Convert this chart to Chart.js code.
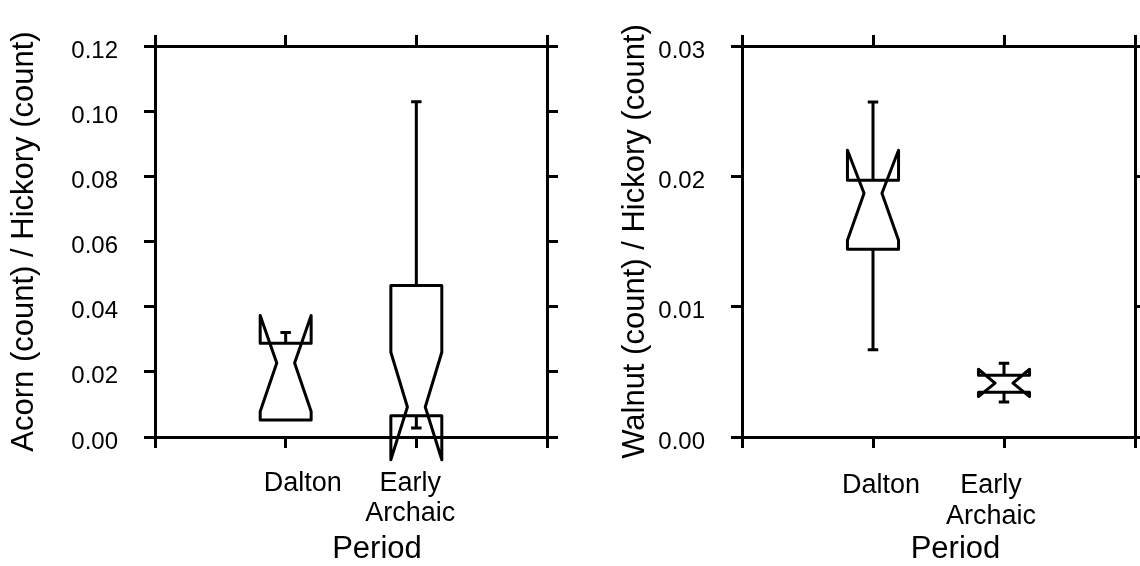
<!DOCTYPE html>
<html>
<head>
<meta charset="utf-8">
<script src="https://cdn.jsdelivr.net/npm/chart.js@4.4.0/dist/chart.umd.min.js"></script>
<style>
  html, body { margin: 0; padding: 0; background: #fff; overflow: hidden; }
  #left { position: absolute; left: 0; top: 0; width: 570px; height: 566px; }
  #right { position: absolute; left: 570px; top: 0; width: 580px; height: 566px; }
</style>
</head>
<body>
<div id="left"><canvas id="acornChart"></canvas></div>
<div id="right"><canvas id="walnutChart"></canvas></div>
<script>
// categories sit at x = 1, 2 on a 0..3 axis
const PERIODS = [["Dalton"], ["Early", "Archaic"]];
const X_TICKS = [0, 1, 2, 3];

// Acorn / Hickory
const ACORN_Y_TICKS = [0, 0.02, 0.04, 0.06, 0.08, 0.10, 0.12];
const ACORN_WHISKER_HIGH = [0.0321, 0.1029];
const ACORN_Q3 = [0.0288, 0.0465];
const ACORN_NOTCH_HIGH = [0.0373, 0.0260];
const ACORN_MEDIAN = [0.0227, 0.0092];
const ACORN_NOTCH_LOW = [0.0078, -0.0070];
const ACORN_Q1 = [0.0052, 0.0065];
const ACORN_WHISKER_LOW = [null, 0.0028];

// Walnut / Hickory
const WALNUT_Y_TICKS = [0, 0.01, 0.02, 0.03];
const WALNUT_WHISKER_HIGH = [0.0257, 0.00566];
const WALNUT_Q3 = [0.0197, 0.00474];
const WALNUT_NOTCH_HIGH = [0.0220, 0.0052];
const WALNUT_MEDIAN = [0.0187, 0.00413];
const WALNUT_NOTCH_LOW = [0.0151, 0.0031];
const WALNUT_Q1 = [0.0144, 0.00344];
const WALNUT_WHISKER_LOW = [0.0067, 0.00268];

const FONT = "'Liberation Sans', Arial, Helvetica, sans-serif";
const BOX_WIDTH = 0.39;     // in x units
const NOTCH_NARROW = 0.35;  // fraction of half box width
const CAP_WIDTH = 0.08;     // in x units
const TICK_LEN = 11;

const notchedBoxes = {
  id: "notchedBoxes",
  afterDraw(chart, args, o) {
    const ctx = chart.ctx;
    const xs = chart.scales.x, ys = chart.scales.y;
    const unit = xs.getPixelForValue(1) - xs.getPixelForValue(0);
    const hw = BOX_WIDTH / 2 * unit;
    const nw = hw * NOTCH_NARROW;
    const cw = CAP_WIDTH / 2 * unit;
    const py = v => ys.getPixelForValue(v);
    ctx.save();
    ctx.strokeStyle = "#000";
    ctx.lineWidth = 3;
    ctx.lineJoin = "round";
    ctx.lineCap = "butt";
    o.q1.forEach((q1, i) => {
      const c = xs.getPixelForValue(i + 1);
      // whiskers
      if (o.whiskerHigh[i] != null) {
        ctx.beginPath();
        ctx.moveTo(c, py(o.q3[i]));
        ctx.lineTo(c, py(o.whiskerHigh[i]));
        ctx.moveTo(c - cw, py(o.whiskerHigh[i]));
        ctx.lineTo(c + cw, py(o.whiskerHigh[i]));
        ctx.stroke();
      }
      if (o.whiskerLow[i] != null) {
        ctx.beginPath();
        ctx.moveTo(c, py(q1));
        ctx.lineTo(c, py(o.whiskerLow[i]));
        ctx.moveTo(c - cw, py(o.whiskerLow[i]));
        ctx.lineTo(c + cw, py(o.whiskerLow[i]));
        ctx.stroke();
      }
      // notched box outline
      ctx.beginPath();
      ctx.moveTo(c - hw, py(q1));
      ctx.lineTo(c - hw, py(o.notchLow[i]));
      ctx.lineTo(c - nw, py(o.median[i]));
      ctx.lineTo(c - hw, py(o.notchHigh[i]));
      ctx.lineTo(c - hw, py(o.q3[i]));
      ctx.lineTo(c + hw, py(o.q3[i]));
      ctx.lineTo(c + hw, py(o.notchHigh[i]));
      ctx.lineTo(c + nw, py(o.median[i]));
      ctx.lineTo(c + hw, py(o.notchLow[i]));
      ctx.lineTo(c + hw, py(q1));
      ctx.closePath();
      ctx.stroke();
    });
    ctx.restore();
  }
};

const periodLabels = {
  id: "periodLabels",
  afterDraw(chart, args, o) {
    const ctx = chart.ctx;
    const xs = chart.scales.x;
    const bottom = chart.chartArea.bottom;
    ctx.save();
    ctx.fillStyle = "#000";
    ctx.textAlign = "center";
    ctx.textBaseline = "alphabetic";
    ctx.font = "27px " + FONT;
    PERIODS.forEach((lines, i) => {
      const c = xs.getPixelForValue(i + 1) + o.shift[i];
      lines.forEach((line, j) => {
        ctx.fillText(line, c, bottom + o.labelY + j * o.lineGap);
      });
    });
    ctx.font = "31px " + FONT;
    const mid = (chart.chartArea.left + chart.chartArea.right) / 2;
    ctx.fillText("Period", mid + o.titleShift, bottom + 121);
    ctx.restore();
  }
};

function frameAxis(extra) {
  return Object.assign({
    type: "linear",
    grid: { drawOnChartArea: false, tickLength: TICK_LEN, lineWidth: 3, color: "#000" },
    border: { display: true, width: 3, color: "#000" },
    ticks: { display: false }
  }, extra);
}

function makeChart(id, cfg) {
  const xTicks = s => { s.ticks = X_TICKS.map(v => ({ value: v })); };
  const yTicks = s => { s.ticks = cfg.yTicks.map(v => ({ value: v })); };
  const yMax = cfg.yTicks[cfg.yTicks.length - 1];
  return new Chart(document.getElementById(id), {
    type: "scatter",
    data: { datasets: [] },
    options: {
      responsive: true,
      maintainAspectRatio: false,
      animation: false,
      layout: { padding: { left: 0, top: 35, right: cfg.padRight, bottom: 0 } },
      scales: {
        x: frameAxis({ position: "bottom", min: 0, max: 3, afterBuildTicks: xTicks,
          afterFit: s => { s.height = 129; } }),
        x2: frameAxis({ position: "top", min: 0, max: 3, afterBuildTicks: xTicks,
          afterFit: s => { s.height = TICK_LEN; } }),
        y: frameAxis({
          position: "left", min: 0, max: yMax, afterBuildTicks: yTicks,
          afterFit: s => { s.width = cfg.yWidth; },
          ticks: {
            display: true, color: "#000", padding: 26, labelOffset: 5,
            font: { family: FONT, size: 24 },
            callback: v => Number(v).toFixed(2)
          },
          title: {
            display: true, text: cfg.yTitle, color: "#000",
            font: { family: FONT, size: 31 },
            padding: { top: cfg.titlePad, bottom: 0 }
          }
        }),
        y2: frameAxis({ position: "right", min: 0, max: yMax, afterBuildTicks: yTicks,
          afterFit: s => { s.width = TICK_LEN; } })
      },
      plugins: {
        legend: { display: false },
        tooltip: { enabled: false },
        notchedBoxes: cfg.boxes,
        periodLabels: cfg.labels
      }
    },
    plugins: [notchedBoxes, periodLabels]
  });
}

makeChart("acornChart", {
  yTicks: ACORN_Y_TICKS,
  yTitle: "Acorn (count) / Hickory (count)",
  yWidth: 155,
  padRight: 12,
  titlePad: 6,
  boxes: {
    q1: ACORN_Q1, q3: ACORN_Q3, median: ACORN_MEDIAN,
    notchLow: ACORN_NOTCH_LOW, notchHigh: ACORN_NOTCH_HIGH,
    whiskerLow: ACORN_WHISKER_LOW, whiskerHigh: ACORN_WHISKER_HIGH
  },
  labels: { shift: [17, -6], labelY: 54, lineGap: 30, titleShift: 26 }
});

makeChart("walnutChart", {
  yTicks: WALNUT_Y_TICKS,
  yTitle: "Walnut (count) / Hickory (count)",
  yWidth: 172,
  padRight: 4,
  titlePad: 47,
  boxes: {
    q1: WALNUT_Q1, q3: WALNUT_Q3, median: WALNUT_MEDIAN,
    notchLow: WALNUT_NOTCH_LOW, notchHigh: WALNUT_NOTCH_HIGH,
    whiskerLow: WALNUT_WHISKER_LOW, whiskerHigh: WALNUT_WHISKER_HIGH
  },
  labels: { shift: [8, -13], labelY: 56, lineGap: 31, titleShift: 17 }
});
</script>
</body>
</html>
